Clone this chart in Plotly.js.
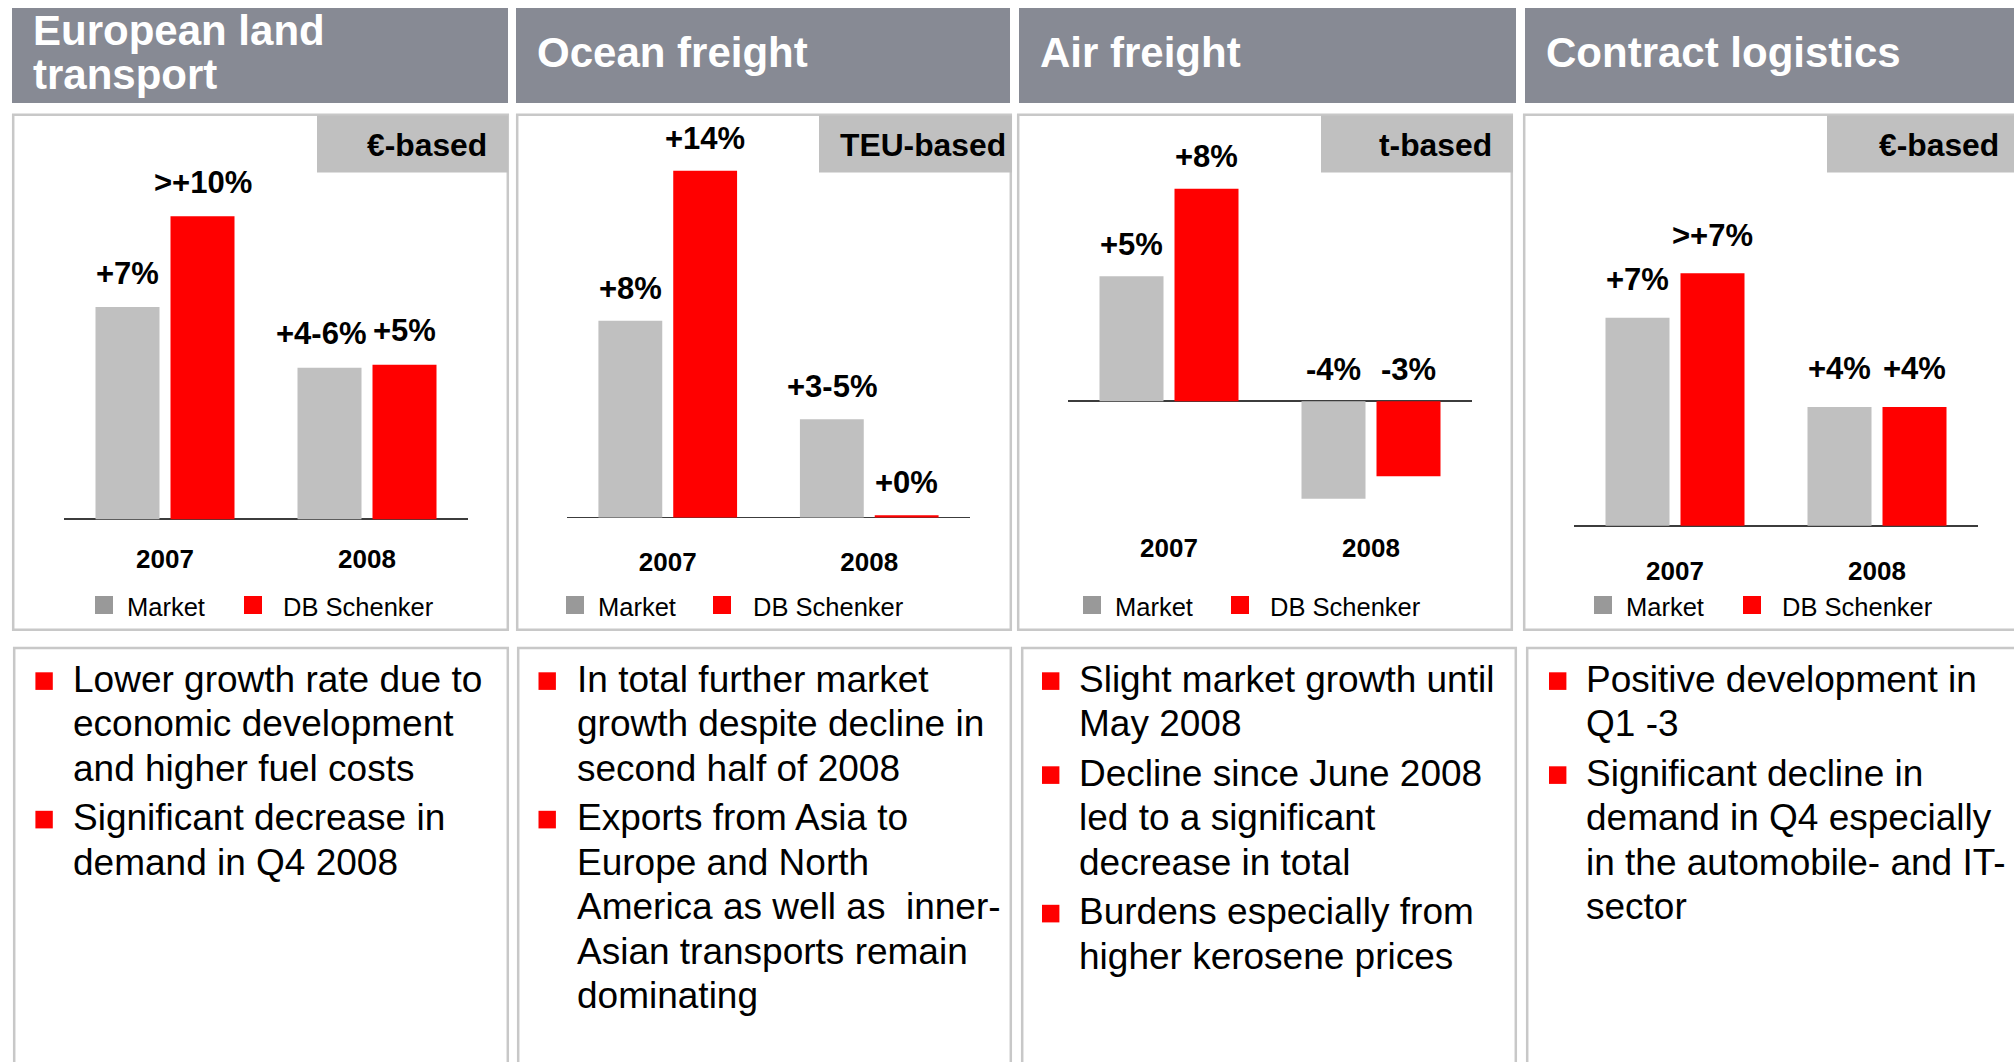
<!DOCTYPE html>
<html><head><meta charset="utf-8">
<script src="https://cdn.plot.ly/plotly-3.0.1.min.js"></script>
<style>html,body{margin:0;padding:0;background:#fff;} #chart{width:2014px;height:1062px;}</style>
</head><body><div id="chart"></div>
<script>
// ---------------- DATA ----------------
const years = ['2007', '2008'];
const seriesNames = ['Market', 'DB Schenker'];

const landMarket = [7.0, 5.0];
const landSchenker = [10.0, 5.1];
const landMarketLabels = ['+7%', '+4-6%'];
const landSchenkerLabels = ['>+10%', '+5%'];

const oceanMarket = [8.0, 4.0];
const oceanSchenker = [14.1, 0.1];
const oceanMarketLabels = ['+8%', '+3-5%'];
const oceanSchenkerLabels = ['+14%', '+0%'];

const airMarket = [5.0, -3.9];
const airSchenker = [8.5, -3.0];
const airMarketLabels = ['+5%', '-4%'];
const airSchenkerLabels = ['+8%', '-3%'];

const contractMarket = [7.0, 4.0];
const contractSchenker = [8.5, 4.0];
const contractMarketLabels = ['+7%', '+4%'];
const contractSchenkerLabels = ['>+7%', '+4%'];

const panelTitles = [['European land', 'transport'], ['Ocean freight'], ['Air freight'], ['Contract logistics']];
const basisLabels = ['€-based', 'TEU-based', 't-based', '€-based'];

const landNotes = [
  ['Lower growth rate due to', 'economic development', 'and higher fuel costs'],
  ['Significant decrease in', 'demand in Q4 2008']
];
const oceanNotes = [
  ['In total further market', 'growth despite decline in', 'second half of 2008'],
  ['Exports from Asia to', 'Europe and North', 'America as well as \u00a0inner-', 'Asian transports remain', 'dominating']
];
const airNotes = [
  ['Slight market growth until', 'May 2008'],
  ['Decline since June 2008', 'led to a significant', 'decrease in total'],
  ['Burdens especially from', 'higher kerosene prices']
];
const contractNotes = [
  ['Positive development in', 'Q1 -3'],
  ['Significant decline in', 'demand in Q4 especially', 'in the automobile- and IT-', 'sector']
];

const panelData = [
  {m: landMarket, s: landSchenker, ml: landMarketLabels, sl: landSchenkerLabels, notes: landNotes},
  {m: oceanMarket, s: oceanSchenker, ml: oceanMarketLabels, sl: oceanSchenkerLabels, notes: oceanNotes},
  {m: airMarket, s: airSchenker, ml: airMarketLabels, sl: airSchenkerLabels, notes: airNotes},
  {m: contractMarket, s: contractSchenker, ml: contractMarketLabels, sl: contractSchenkerLabels, notes: contractNotes}
];

// ---------------- GEOMETRY / STYLE ----------------
const W = 2014, H = 1062;
const FONT = 'Liberation Sans, Arial, sans-serif';
const HEADER = '#878a94', TAG = '#c0c0c0', GRAY = '#c0c0c0', RED = '#ff0000', LEGGRAY = '#999999', BORDER = '#c8c8c8';

const geo = [
  {hdr:[12,508], box:[12,509], tag:[317,508], tagRight:487, titleX:33, titleBase:[45,89], ax:[64,468], zero:519.2, scale:30.3, yearBase:568, leg:[95,127,244,283], nb:[13,509], bullet:35.4, text:72.8, gap:23},
  {hdr:[516,1010], box:[516,1012], tag:[819,1012], tagRight:1006, titleX:537, titleBase:[67.3], ax:[567,970], zero:517.6, scale:24.6, yearBase:571.4, leg:[566,597.7,713,753], nb:[517,1012], bullet:538.5, text:576.5, gap:21.5},
  {hdr:[1019,1516], box:[1017,1513], tag:[1321,1513], tagRight:1492, titleX:1040, titleBase:[67.3], ax:[1068,1472], zero:401.2, scale:25.0, yearBase:557, leg:[1083,1115,1231,1270], nb:[1021,1517], bullet:1042, text:1079, gap:21},
  {hdr:[1525,2030], box:[1523,2030], tag:[1827,2030], tagRight:1999, titleX:1546, titleBase:[67.3], ax:[1574,1978], zero:525.7, scale:29.7, yearBase:579.6, leg:[1594,1625.7,1743,1781.7], nb:[1526,2030], bullet:1549, text:1586, gap:27}
];
const labelNudge = {'0-0-1': -9};

const fx = x => x / W;
const fy = y => 1 - y / H;

function txt(x, base, text, size, opts) {
  return Object.assign({
    xref: 'paper', yref: 'paper', x: fx(x), y: fy(base + 0.212 * size),
    xanchor: 'left', yanchor: 'bottom', text: text, showarrow: false,
    borderpad: 0, borderwidth: 0,
    font: {family: FONT, size: size, color: '#000'}
  }, opts || {});
}
function rect(x0, y0, x1, y1, style) {
  return Object.assign({type: 'rect', xref: 'paper', yref: 'paper', x0: fx(x0), x1: fx(x1), y0: fy(y1), y1: fy(y0), layer: 'below'}, style);
}

const traces = [], annotations = [], shapes = [];
const layout = {
  width: W, height: H, margin: {l: 0, r: 0, t: 0, b: 0},
  paper_bgcolor: '#fff', plot_bgcolor: 'rgba(0,0,0,0)',
  barmode: 'group', bargap: 0.2574, bargroupgap: 0.1467,
  showlegend: false, font: {family: FONT}
};

const yt = 150;          // top of plotting area (px)
const tickDrop = 27;     // distance from plot bottom to year-label baseline

panelData.forEach((d, i) => {
  const g = geo[i];
  const xa = i === 0 ? 'x' : 'x' + (i + 1);
  const ya = i === 0 ? 'y' : 'y' + (i + 1);
  const xKey = i === 0 ? 'xaxis' : 'xaxis' + (i + 1);
  const yKey = i === 0 ? 'yaxis' : 'yaxis' + (i + 1);
  const yb = g.yearBase - tickDrop;

  layout[xKey] = {
    domain: [fx(g.ax[0]), fx(g.ax[1])], range: [-0.5, 1.5], type: 'category', anchor: ya,
    showgrid: false, zeroline: false, showline: false, ticks: '', fixedrange: true,
    tickfont: {family: FONT, size: 26, color: '#000', weight: 'bold'}
  };
  layout[yKey] = {
    domain: [fy(yb), fy(yt)], range: [-(yb - g.zero) / g.scale, (g.zero - yt) / g.scale], anchor: xa,
    showgrid: false, showticklabels: false, ticks: '', showline: false, fixedrange: true,
    zeroline: true, zerolinecolor: '#3c3c3c', zerolinewidth: 1.6
  };

  traces.push({type: 'bar', x: years, y: d.m, name: seriesNames[0], xaxis: xa, yaxis: ya, marker: {color: GRAY}, hoverinfo: 'skip'});
  traces.push({type: 'bar', x: years, y: d.s, name: seriesNames[1], xaxis: xa, yaxis: ya, marker: {color: RED}, hoverinfo: 'skip'});

  // value labels (category index on the x axis, value on the y axis)
  [[d.m, d.ml, -37.5], [d.s, d.sl, 37.5]].forEach(([vals, labs, dx], si) => {
    vals.forEach((v, k) => {
      annotations.push({
        xref: xa, yref: ya, x: k, y: Math.max(v, 0), xanchor: 'center', yanchor: 'bottom',
        xshift: dx + (labelNudge[i + '-' + si + '-' + k] || 0), yshift: g.gap - 0.212 * 31,
        text: '<b>' + labs[k] + '</b>', showarrow: false, borderpad: 0, borderwidth: 0,
        font: {family: FONT, size: 31, color: '#000'}
      });
    });
  });

  // header
  shapes.push(rect(g.hdr[0], 8, g.hdr[1], 103, {fillcolor: HEADER, line: {width: 0}}));
  panelTitles[i].forEach((t, li) => {
    annotations.push(txt(g.titleX, g.titleBase[li], '<b>' + t + '</b>', 42, {font: {family: FONT, size: 42, color: '#fff'}}));
  });
  // chart box & basis tag
  shapes.push(rect(g.box[0] + 1.2, 114.7, g.box[1] - 1.2, 629.8, {line: {color: BORDER, width: 2.5}, fillcolor: 'rgba(0,0,0,0)'}));
  shapes.push(rect(g.tag[0], 115.5, g.tag[1], 172.6, {fillcolor: TAG, line: {width: 0}}));
  annotations.push(txt(g.tagRight, 156, '<b>' + basisLabels[i] + '</b>', 31.8, {xanchor: 'right'}));

  // legend
  shapes.push(rect(g.leg[0], 596, g.leg[0] + 18, 614, {fillcolor: LEGGRAY, line: {width: 0}}));
  shapes.push(rect(g.leg[2], 596, g.leg[2] + 18, 614, {fillcolor: RED, line: {width: 0}}));
  annotations.push(txt(g.leg[1], 615.5, seriesNames[0], 25.5));
  annotations.push(txt(g.leg[3], 615.5, seriesNames[1], 25.5));

  // notes box
  shapes.push(rect(g.nb[0] + 1.2, 648, g.nb[1] - 1.2, 1075, {line: {color: BORDER, width: 2.5}, fillcolor: 'rgba(0,0,0,0)'}));
  let base = 691.7;
  d.notes.forEach((para, pi) => {
    if (pi > 0) base += 49.5;
    shapes.push(rect(g.bullet, base - 19.4, g.bullet + 17.4, base - 1.8, {fillcolor: RED, line: {width: 0}}));
    para.forEach((line, li) => {
      if (li > 0) base += 44.5;
      annotations.push(txt(g.text, base, line, 37));
    });
  });
});

layout.annotations = annotations;
layout.shapes = shapes;
Plotly.newPlot('chart', traces, layout, {staticPlot: true, displayModeBar: false});
</script>
</body></html>
